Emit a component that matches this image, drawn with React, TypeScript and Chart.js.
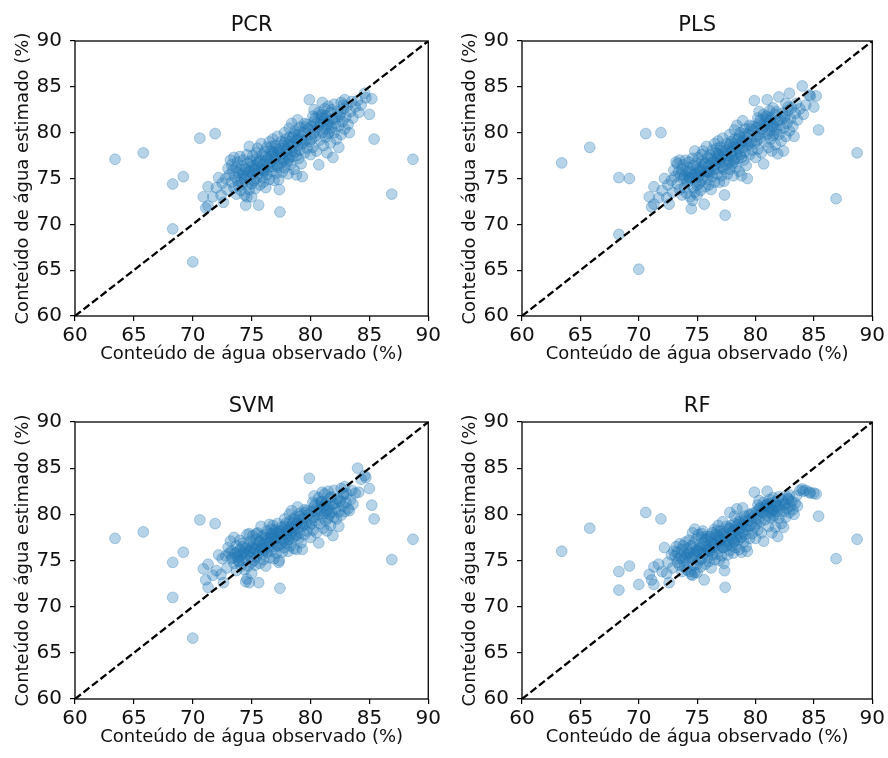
import React, { useEffect, useRef } from "react";
import { Chart, registerables } from "chart.js";

Chart.register(...registerables);

// ---------- data ----------
const observed = [
  63.4, 65.8, 68.3, 69.2, 68.3, 70.0, 70.6, 71.9, 86.9, 88.7, 70.9, 71.3, 71.1, 71.3, 71.7, 72.0,
  72.2, 72.4, 72.5, 72.8, 72.9, 72.6, 73.0,
  73.1, 73.2, 73.3, 73.3, 73.4, 73.5, 73.5, 73.6, 73.7, 73.7, 73.8, 73.8, 73.9, 73.9, 74.0, 74.0,
  74.1, 74.1, 74.2, 74.2, 74.3, 74.3, 74.4, 74.4, 74.5, 74.5, 74.6, 74.6, 74.6, 74.7, 74.7, 74.8, 74.8, 74.8, 74.9, 74.9, 75.0, 75.0, 75.0,
  75.1, 75.1, 75.2, 75.2, 75.3, 75.3, 75.4, 75.4, 75.5, 75.5, 75.6, 75.6, 75.7, 75.7, 75.8, 75.8, 75.9, 75.9, 76.0, 76.0, 76.1, 76.1, 76.2, 76.2, 76.3, 76.3, 76.4, 76.4, 76.5, 76.5,
  76.6, 76.6, 76.7, 76.7, 76.8, 76.8, 76.9, 76.9, 77.0, 77.0, 77.1, 77.1, 77.2, 77.2, 77.3, 77.3, 77.35, 77.4, 77.4, 77.5, 77.5, 77.6, 77.6, 77.7, 77.7, 77.8, 77.8, 77.9, 77.9, 78.0, 78.0,
  78.1, 78.1, 78.2, 78.2, 78.3, 78.3, 78.4, 78.4, 78.5, 78.5, 78.6, 78.6, 78.7, 78.7, 78.8, 78.8, 78.9, 78.9, 79.0, 79.0, 79.1, 79.1, 79.2, 79.2, 79.3, 79.3, 79.4, 79.5, 79.5, 79.6, 79.7, 79.8, 79.9, 79.9, 80.0,
  80.1, 80.1, 80.2, 80.2, 80.3, 80.3, 80.4, 80.5, 80.5, 80.6, 80.7, 80.7, 80.8, 80.8, 80.9, 81.0, 81.0, 81.1, 81.1, 81.2, 81.2, 81.3, 81.3, 81.4, 81.4, 81.5, 81.5, 81.6, 81.7, 81.7, 81.8, 81.9, 81.9, 82.0, 82.0,
  82.1, 82.2, 82.3, 82.4, 82.4, 82.5, 82.6, 82.6, 82.7, 82.8, 82.9, 82.9, 83.0, 83.1, 83.2, 83.3, 83.4, 83.5, 83.6, 83.8, 84.0, 84.1, 84.3, 84.6, 84.7, 85.0, 85.2, 85.4,
  74.3, 74.9, 75.2, 75.6, 75.9, 76.2, 76.5, 76.8, 77.0, 77.2, 77.5, 77.8, 78.0, 78.2, 78.4, 78.6, 78.9, 79.1, 79.4, 79.7,
  80.0, 80.3, 80.6, 80.9, 81.2, 81.5, 81.8, 82.1, 82.5, 82.8, 75.4, 76.0, 76.7, 77.3, 78.1, 78.8, 79.6, 80.4, 81.0, 81.6,
];

const pcrEstimated = [
  77.1, 77.8, 74.4, 75.2, 69.5, 65.9, 79.4, 79.9, 73.3, 77.1, 73.0, 74.1, 71.8, 72.0, 73.0, 74.0,
  75.1, 73.2, 74.5, 75.0, 73.8, 72.4, 76.1,
  75.4, 77.0, 76.5, 74.6, 75.9, 77.3, 74.0, 75.2, 76.2, 73.3, 74.8, 76.8, 75.6, 74.2, 76.0, 77.4,
  75.0, 73.7, 76.4, 74.4, 75.6, 77.0, 74.9, 73.2, 76.0, 72.1, 75.3, 73.0, 77.6, 74.3, 76.7, 75.8, 73.8, 78.5, 75.0, 76.9, 74.4, 76.3, 73.0,
  75.5, 77.5, 74.8, 76.4, 75.9, 73.9, 77.1, 75.0, 76.6, 78.3, 72.1, 75.5, 74.3, 77.0, 76.1, 78.8, 75.1, 77.6, 76.6, 74.6, 77.9, 75.8, 76.9, 74.0, 78.4, 75.4, 77.2, 76.2, 79.0, 74.9,
  76.8, 78.0, 75.8, 77.4, 79.3, 76.3, 74.8, 77.9, 76.9, 78.6, 75.6, 77.5, 79.6, 76.4, 77.9, 74.9, 73.8, 71.35, 78.3, 76.7, 79.0, 77.3, 75.7, 78.6, 77.0, 80.0, 76.2, 78.0, 79.3, 76.8, 77.6,
  78.7, 75.5, 80.5, 77.3, 79.0, 76.5, 81.0, 78.0, 77.4, 79.5, 76.0, 78.4, 80.2, 77.9, 79.1, 75.4, 81.4, 78.6, 77.2, 79.8, 78.1, 80.6, 76.6, 79.3, 78.8, 75.2, 80.0, 77.8, 81.0, 79.2, 78.3, 80.4, 83.6, 79.0, 77.6,
  80.7, 79.3, 81.8, 78.4, 80.0, 82.5, 79.6, 81.0, 78.0, 80.3, 76.5, 82.2, 79.2, 80.9, 81.6, 83.3, 80.0, 78.6, 81.2, 82.6, 80.4, 79.5, 81.8, 77.8, 80.8, 82.9, 79.9, 81.3, 78.9, 82.2, 80.5, 77.3, 81.5, 80.0, 83.1,
  81.0, 79.3, 82.3, 78.4, 80.7, 81.8, 83.3, 79.8, 81.2, 82.6, 83.6, 80.4, 81.7, 82.9, 80.9, 80.0, 82.3, 83.4, 81.6, 82.8, 83.5, 82.2, 83.0, 84.3, 83.8, 82.0, 83.7, 79.3,
  75.3, 75.7, 76.0, 76.8, 75.9, 77.4, 76.6, 77.9, 77.3, 78.2, 77.7, 78.9, 78.2, 79.5, 78.6, 79.8, 79.3, 80.1, 79.0, 80.9,
  79.8, 81.2, 80.6, 82.0, 81.5, 81.0, 82.5, 81.6, 82.0, 83.0, 77.8, 75.9, 78.5, 76.2, 77.0, 77.5, 80.6, 81.6, 81.9, 80.1,
];

const plsEstimated = [
  76.7, 78.4, 75.1, 75.0, 68.9, 65.1, 79.9, 80.0, 72.8, 77.8, 73.0, 74.1, 71.9, 72.2, 72.9, 73.7,
  75.0, 72.9, 74.3, 74.8, 73.5, 72.2, 75.9,
  75.2, 76.8, 76.6, 74.4, 75.7, 77.0, 73.8, 75.4, 76.0, 73.2, 75.0, 76.5, 75.3, 74.0, 75.8, 77.0,
  74.8, 73.4, 76.2, 74.6, 75.8, 76.8, 75.0, 73.0, 75.6, 71.7, 75.1, 72.6, 77.2, 74.0, 76.4, 75.5, 73.5, 78.0, 74.7, 76.7, 74.3, 76.0, 73.2,
  75.2, 77.3, 74.5, 76.1, 75.7, 73.7, 76.9, 74.8, 76.3, 78.0, 72.2, 75.3, 74.1, 76.7, 75.8, 78.5, 74.9, 77.3, 76.4, 74.3, 77.6, 75.6, 76.7, 73.8, 78.1, 75.2, 76.9, 76.0, 78.8, 74.6,
  76.6, 77.8, 75.5, 77.1, 79.1, 76.1, 74.6, 77.6, 76.7, 78.4, 75.3, 77.3, 79.4, 76.2, 77.7, 74.7, 73.2, 71.0, 78.1, 76.5, 78.8, 77.1, 75.5, 78.4, 76.8, 79.8, 76.0, 77.8, 79.0, 76.6, 77.4,
  78.5, 75.3, 80.3, 77.1, 78.8, 76.2, 80.8, 77.8, 77.2, 79.3, 75.8, 78.2, 80.0, 77.6, 78.9, 75.3, 81.3, 78.4, 77.0, 79.6, 77.9, 80.4, 76.4, 79.1, 78.6, 75.0, 79.8, 77.6, 80.8, 79.0, 78.1, 80.2, 83.5, 78.8, 77.3,
  80.6, 79.1, 81.6, 78.2, 79.8, 82.3, 79.4, 80.8, 77.8, 80.1, 76.6, 82.0, 79.0, 80.7, 81.4, 83.6, 79.8, 78.4, 81.0, 82.4, 80.2, 79.3, 81.6, 78.0, 80.6, 82.7, 79.7, 81.1, 78.7, 82.0, 80.3, 77.7, 81.3, 79.8, 83.9,
  80.8, 79.1, 82.1, 78.0, 80.5, 81.6, 83.2, 79.6, 81.0, 82.4, 84.3, 80.2, 81.5, 82.7, 80.7, 79.6, 82.1, 83.2, 81.4, 82.6, 85.1, 82.0, 83.0, 84.1, 84.0, 82.8, 84.0, 80.3,
  75.1, 75.5, 75.8, 76.6, 75.7, 77.2, 76.4, 77.7, 77.1, 78.0, 77.5, 78.7, 78.0, 79.3, 78.4, 79.6, 79.1, 79.9, 78.8, 80.7,
  79.6, 81.0, 80.4, 81.8, 81.3, 80.8, 82.3, 81.4, 81.8, 82.8, 77.6, 75.7, 78.3, 76.0, 76.8, 77.3, 80.4, 81.4, 81.7, 79.9,
];

const svmEstimated = [
  77.4, 78.1, 74.8, 75.9, 71.0, 66.6, 79.4, 79.0, 75.1, 77.3, 74.1, 74.6, 72.9, 72.1, 73.4, 73.9,
  75.6, 73.5, 75.2, 75.5, 74.2, 72.6, 76.4,
  75.8, 77.1, 76.0, 75.2, 75.3, 77.5, 74.7, 75.8, 76.6, 73.9, 75.4, 75.9, 74.9, 75.0, 76.2, 77.2,
  75.6, 74.4, 76.5, 75.0, 75.9, 76.9, 75.2, 74.0, 76.3, 72.7, 75.7, 73.0, 77.8, 74.4, 76.6, 76.0, 72.6, 77.9, 75.4, 77.1, 74.8, 76.4, 73.6,
  75.9, 77.7, 75.0, 76.8, 76.2, 74.5, 77.3, 75.4, 76.6, 78.0, 72.6, 75.8, 74.7, 77.1, 76.3, 78.7, 75.6, 77.6, 76.8, 75.1, 77.8, 76.1, 77.0, 74.4, 78.2, 75.9, 77.4, 76.5, 78.9, 75.3,
  77.0, 77.9, 76.0, 77.5, 78.8, 76.5, 75.2, 77.8, 77.0, 78.3, 75.8, 77.4, 79.0, 76.6, 77.9, 74.8, 75.0, 72.0, 78.2, 76.8, 78.6, 77.3, 75.9, 78.3, 77.1, 79.5, 76.4, 77.9, 79.0, 76.9, 77.6,
  78.4, 76.0, 80.0, 77.3, 78.7, 76.6, 80.4, 77.9, 77.5, 79.1, 76.3, 78.3, 79.7, 77.8, 78.9, 76.2, 80.8, 78.5, 77.4, 79.4, 78.0, 80.1, 76.9, 79.0, 78.7, 76.2, 79.6, 77.8, 80.5, 79.0, 78.2, 80.0, 83.9, 78.8, 77.5,
  80.3, 79.0, 81.3, 78.3, 79.7, 82.0, 79.3, 80.6, 78.0, 80.0, 76.9, 81.8, 79.0, 80.4, 81.2, 82.4, 79.7, 78.5, 80.8, 82.2, 80.1, 79.3, 81.3, 78.2, 80.4, 82.5, 79.6, 80.9, 78.8, 81.8, 80.2, 77.7, 81.1, 79.7, 82.6,
  80.6, 79.5, 81.7, 78.7, 80.3, 81.4, 82.8, 79.9, 80.9, 82.1, 83.0, 80.3, 81.3, 82.2, 80.6, 80.4, 81.6, 82.6, 81.1, 82.3, 85.0, 82.4, 83.8, 84.2, 84.0, 82.8, 81.0, 79.5,
  75.7, 76.0, 76.3, 77.0, 76.3, 77.5, 76.9, 77.9, 77.4, 78.1, 77.8, 78.7, 78.2, 79.2, 78.5, 79.5, 79.1, 79.8, 78.9, 80.4,
  79.5, 80.8, 80.3, 81.4, 81.0, 80.6, 81.9, 81.2, 81.5, 82.3, 77.9, 76.3, 78.4, 76.6, 77.3, 77.7, 80.2, 81.1, 81.4, 80.0,
];

const rfEstimated = [
  76.0, 78.5, 73.8, 74.4, 71.8, 72.4, 80.2, 79.5, 75.2, 77.3, 73.5, 74.3, 72.9, 72.4, 74.6, 73.8,
  76.4, 73.6, 74.8, 75.6, 74.2, 72.6, 76.0,
  75.5, 76.5, 75.9, 74.8, 75.2, 76.8, 74.5, 75.4, 76.2, 73.8, 75.0, 76.6, 75.8, 74.3, 75.3, 77.0,
  75.6, 74.0, 76.3, 74.7, 75.9, 77.2, 75.3, 73.8, 76.6, 73.5, 75.2, 73.4, 78.0, 74.5, 76.8, 75.7, 73.7, 78.4, 75.5, 77.3, 74.6, 76.0, 73.7,
  76.1, 77.8, 75.0, 76.7, 75.8, 74.3, 77.5, 75.2, 76.4, 78.2, 72.9, 75.8, 74.6, 77.2, 76.5, 77.6, 75.3, 77.4, 76.2, 74.9, 77.6, 76.0, 77.0, 74.2, 78.0, 75.6, 76.9, 76.4, 78.4, 75.1,
  76.6, 77.8, 75.7, 77.1, 78.8, 76.3, 75.0, 77.5, 76.7, 78.2, 75.5, 77.2, 79.2, 76.4, 77.7, 74.7, 73.9, 72.1, 78.0, 76.6, 78.7, 77.1, 75.6, 78.4, 76.8, 80.2, 76.1, 77.7, 78.8, 76.6, 77.3,
  78.3, 75.8, 79.8, 77.0, 78.6, 76.4, 80.6, 77.6, 77.2, 78.9, 76.2, 78.0, 79.5, 77.5, 78.6, 75.9, 80.7, 78.1, 77.0, 79.2, 77.8, 79.8, 76.5, 78.7, 78.3, 76.0, 79.3, 77.4, 80.0, 78.8, 77.9, 79.7, 82.4, 78.6, 77.4,
  80.3, 79.0, 81.0, 78.3, 79.5, 81.5, 79.2, 80.4, 78.0, 80.2, 77.1, 81.3, 79.4, 80.6, 80.9, 82.5, 79.9, 78.7, 80.8, 81.6, 80.2, 79.6, 81.2, 78.0, 80.5, 81.8, 79.8, 80.7, 78.6, 81.4, 80.3, 77.6, 80.9, 79.6, 81.9,
  80.7, 79.0, 81.5, 78.6, 80.3, 81.0, 82.0, 79.7, 80.6, 81.6, 82.1, 80.2, 80.9, 81.4, 80.5, 80.0, 81.2, 82.0, 80.9, 82.6, 82.75, 82.5, 82.6, 82.4, 82.3, 82.3, 82.2, 79.8,
  75.8, 76.1, 76.3, 76.9, 76.2, 77.3, 76.8, 77.7, 77.2, 77.9, 77.6, 78.5, 78.0, 79.0, 78.3, 79.2, 78.9, 79.5, 78.7, 80.1,
  79.5, 80.6, 80.2, 81.0, 80.7, 80.4, 81.3, 80.9, 81.2, 81.7, 77.9, 76.1, 78.2, 76.4, 77.1, 77.5, 79.9, 80.7, 81.1, 79.9,
];

const axisTicks = [60, 65, 70, 75, 80, 85, 90];
const identityLine = [60, 90];
const modelNames = ["PCR", "PLS", "SVM", "RF"];
const xAxisLabel = "Conteúdo de água observado (%)";
const yAxisLabel = "Conteúdo de água estimado (%)";

// ---------- layout ----------
const FONT = "'DejaVu Sans', 'Liberation Sans', sans-serif";
const TEXT = "#111111";
const CW = 444;
const CH = 379;

type Area = { l: number; t: number; r: number; b: number };
const panels: { name: string; est: number[]; left: number; top: number; area: Area }[] = [
  { name: modelNames[0], est: pcrEstimated, left: 0, top: 0, area: { l: 75, t: 41, r: 429, b: 316 } },
  { name: modelNames[1], est: plsEstimated, left: 444, top: 0, area: { l: 78, t: 41, r: 432, b: 316 } },
  { name: modelNames[2], est: svmEstimated, left: 0, top: 379, area: { l: 75, t: 43, r: 429, b: 320 } },
  { name: modelNames[3], est: rfEstimated, left: 444, top: 379, area: { l: 78, t: 43, r: 432, b: 320 } },
];

const framePlugin = {
  id: "panelFrame",
  afterDatasetsDraw(chart: any) {
    const { ctx, chartArea } = chart;
    const { left, top, right, bottom } = chartArea;
    ctx.save();
    ctx.strokeStyle = "#000";
    ctx.lineWidth = 1.3;
    ctx.strokeRect(left, top, right - left, bottom - top);
    ctx.restore();
  },
  afterDraw(chart: any, _args: any, opts: any) {
    const { ctx, chartArea } = chart;
    ctx.save();
    ctx.font = `21px ${FONT}`;
    ctx.fillStyle = TEXT;
    ctx.textAlign = "center";
    ctx.textBaseline = "alphabetic";
    ctx.fillText(opts.text, (chartArea.left + chartArea.right) / 2, chartArea.top - 10.5);
    ctx.restore();
  },
};

function Panel({ name, est, area }: { name: string; est: number[]; area: Area }) {
  const ref = useRef<HTMLCanvasElement | null>(null);
  useEffect(() => {
    if (!ref.current) return;
    const points = observed.map((x, i) => ({ x, y: est[i] }));
    const lh = 18 * 1.2;
    const chart = new Chart(ref.current, {
      type: "scatter",
      data: {
        datasets: [
          {
            type: "line",
            data: identityLine.map((v) => ({ x: v, y: v })),
            borderColor: "#000",
            borderWidth: 2.3,
            borderDash: [7.5, 3.3],
            pointRadius: 0,
            fill: false,
            order: 0,
          } as any,
          {
            type: "scatter",
            data: points,
            backgroundColor: "rgba(31,119,180,0.32)",
            borderColor: "rgba(31,119,180,0.32)",
            borderWidth: 1,
            pointRadius: 5.4,
            order: 1,
          },
        ],
      },
      options: {
        responsive: false,
        animation: false,
        events: [],
        layout: { padding: { left: 0, top: area.t, right: CW - area.r, bottom: 0 } },
        plugins: {
          legend: { display: false },
          tooltip: { enabled: false },
          title: { display: false },
          panelFrame: { text: name },
        } as any,
        scales: {
          x: {
            type: "linear",
            min: 60,
            max: 90,
            afterBuildTicks: (s: any) => {
              s.ticks = axisTicks.map((v) => ({ value: v }));
            },
            afterFit: (s: any) => {
              s.height = CH - area.b;
            },
            ticks: { font: { family: FONT, size: 20 }, color: TEXT, padding: 3, maxRotation: 0 },
            grid: { display: true, drawOnChartArea: false, drawTicks: true, tickLength: 5, color: "#000", lineWidth: 1.2 },
            border: { display: false },
            title: {
              display: true,
              text: xAxisLabel,
              font: { family: FONT, size: 18 },
              color: TEXT,
              padding: { top: 0, bottom: CH - area.b - 38 - lh / 2 },
            },
          },
          y: {
            type: "linear",
            min: 60,
            max: 90,
            afterBuildTicks: (s: any) => {
              s.ticks = axisTicks.map((v) => ({ value: v }));
            },
            afterFit: (s: any) => {
              s.width = area.l;
            },
            ticks: { font: { family: FONT, size: 20 }, color: TEXT, padding: 8 },
            grid: { display: true, drawOnChartArea: false, drawTicks: true, tickLength: 5, color: "#000", lineWidth: 1.2 },
            border: { display: false },
            title: {
              display: true,
              text: yAxisLabel,
              font: { family: FONT, size: 18 },
              color: TEXT,
              padding: { top: area.l - 51.5 - lh / 2, bottom: 0 },
            },
          },
        },
      },
      plugins: [framePlugin as any],
    });
    return () => chart.destroy();
  }, [name, est, area]);
  return <canvas ref={ref} width={CW} height={CH} style={{ display: "block", width: CW, height: CH }} />;
}

export default function App() {
  return (
    <div style={{ position: "absolute", left: 0, top: 0, width: 888, height: 758, background: "#fff" }}>
      {panels.map((p) => (
        <div key={p.name} style={{ position: "absolute", left: p.left, top: p.top, width: CW, height: CH }}>
          <Panel name={p.name} est={p.est} area={p.area} />
        </div>
      ))}
    </div>
  );
}
